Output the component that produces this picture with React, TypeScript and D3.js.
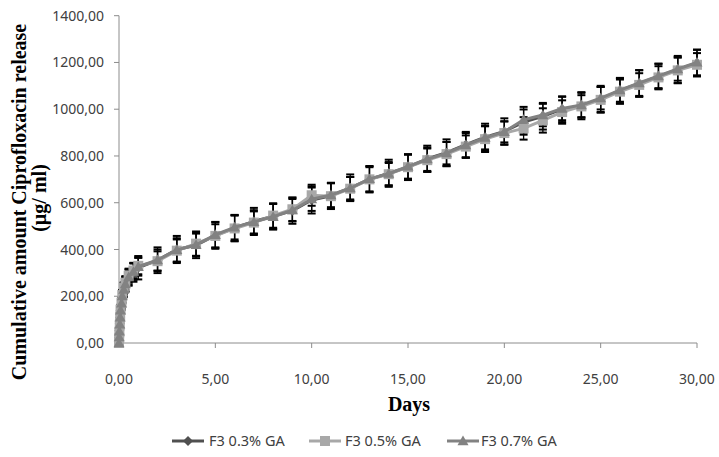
import React from "react";
import * as d3 from "d3";

// Sampling times (days)
const days = [
  0, 0.01, 0.02, 0.04, 0.06, 0.08, 0.13, 0.17, 0.25, 0.33, 0.5, 0.75, 1,
  2, 3, 4, 5, 6, 7, 8, 9, 10, 11, 12, 13, 14, 15, 16, 17, 18, 19, 20,
  21, 22, 23, 24, 25, 26, 27, 28, 29, 30,
];

// Cumulative release (µg/ml), means
const f3_03 = [
  0, 24, 52, 82, 108, 138, 168, 198, 226, 250, 280, 302, 322,
  354, 400, 418, 460, 492, 520, 542, 566, 612, 630, 664, 700, 726, 752, 788,
  814, 848, 880, 905, 945, 970, 1000, 1015, 1044, 1080, 1110, 1140, 1170, 1198,
];
const f3_05 = [
  0, 22, 48, 78, 112, 142, 172, 205, 235, 258, 288, 310, 330,
  350, 395, 425, 458, 490, 515, 545, 572, 632, 628, 660, 700, 722, 752, 782,
  808, 840, 872, 898, 918, 952, 988, 1012, 1040, 1075, 1104, 1136, 1166, 1190,
];
const f3_07 = [
  0, 25, 50, 80, 110, 140, 170, 200, 228, 252, 282, 305, 326,
  355, 398, 420, 463, 495, 518, 540, 568, 615, 633, 662, 702, 724, 755, 786,
  812, 846, 878, 903, 955, 975, 1003, 1018, 1047, 1082, 1112, 1142, 1172, 1200,
];

// Standard deviations
const sd_03 = [
  0, 10, 14, 18, 20, 24, 26, 28, 30, 32, 35, 40, 50,
  55, 58, 55, 57, 56, 58, 54, 56, 58, 55, 57, 56, 58, 54, 56, 57, 55, 58,
  56, 54, 57, 55, 58, 56, 54, 57, 55, 58, 56,
];
const sd_05 = [
  0, 6, 10, 14, 16, 18, 20, 22, 25, 28, 30, 33, 36,
  42, 48, 52, 50, 55, 48, 52, 50, 45, 55, 50, 52, 48, 55, 50, 52, 48, 55,
  50, 48, 52, 50, 48, 55, 52, 50, 48, 55, 50,
];
const sd_07 = [
  0, 8, 12, 15, 18, 20, 22, 25, 28, 30, 32, 35, 38,
  45, 50, 48, 55, 52, 50, 55, 48, 50, 52, 48, 55, 50, 52, 50, 48, 52, 50,
  45, 55, 48, 50, 52, 48, 50, 55, 52, 50, 55,
];

const seriesNames = ["F3 0.3% GA", "F3 0.5% GA", "F3 0.7% GA"];
const xTicks = [0, 5, 10, 15, 20, 25, 30];
const yTicks = [0, 200, 400, 600, 800, 1000, 1200, 1400];

const W = 719;
const H = 457;

const fmt = (v: number) => v.toFixed(2).replace(".", ",");

type Shape = "diamond" | "square" | "triangle";

function Marker({ shape, x, y, fill }: { shape: Shape; x: number; y: number; fill: string }) {
  if (shape === "diamond") {
    const r = 5;
    return <path d={`M${x},${y - r}L${x + r},${y}L${x},${y + r}L${x - r},${y}Z`} fill={fill} />;
  }
  if (shape === "square") {
    const r = 5;
    return <rect x={x - r} y={y - r} width={2 * r} height={2 * r} fill={fill} />;
  }
  const r = 5.5;
  return <path d={`M${x},${y - r}L${x + r},${y + r * 0.75}L${x - r},${y + r * 0.75}Z`} fill={fill} />;
}

export default function App() {
  const x = d3.scaleLinear().domain([0, 30]).range([119, 697]);
  const y = d3.scaleLinear().domain([0, 1400]).range([343, 15.7]);

  const series = [
    { name: seriesNames[0], values: f3_03, sd: sd_03, color: "#505050", shape: "diamond" as Shape },
    { name: seriesNames[1], values: f3_05, sd: sd_05, color: "#a8a8a8", shape: "square" as Shape },
    { name: seriesNames[2], values: f3_07, sd: sd_07, color: "#828282", shape: "triangle" as Shape },
  ];

  const line = d3
    .line<number>()
    .x((_, i) => x(days[i]))
    .y((v) => y(v));

  const tickFont = "'Noto Sans', 'Open Sans', sans-serif";
  const titleFont = "'Liberation Serif', 'DejaVu Serif', serif";
  const capW = 4;

  const legendItems = [
    { lx: 172, tx: 209 },
    { lx: 309, tx: 345 },
    { lx: 447, tx: 481 },
  ];

  return (
    <svg
      width={W}
      height={H}
      style={{ position: "absolute", left: 0, top: 0, background: "#fff" }}
    >
      {/* axes */}
      <line x1={x(0)} x2={x(0)} y1={y(0)} y2={y(1400)} stroke="#8c8c8c" strokeWidth={1} />
      <line x1={x(0)} x2={x(30)} y1={y(0)} y2={y(0)} stroke="#8c8c8c" strokeWidth={1} />
      {yTicks.map((t) => (
        <g key={"y" + t}>
          <line x1={x(0) - 5} x2={x(0)} y1={y(t)} y2={y(t)} stroke="#8c8c8c" />
          <text
            x={104}
            y={y(t)}
            dy="0.36em"
            textAnchor="end"
            fontFamily={tickFont}
            fontSize={14}
            fill="#404040"
          >
            {fmt(t)}
          </text>
        </g>
      ))}
      {xTicks.map((t) => (
        <g key={"x" + t}>
          <line x1={x(t)} x2={x(t)} y1={y(0)} y2={y(0) + 5} stroke="#8c8c8c" />
          <text
            x={x(t)}
            y={384}
            textAnchor="middle"
            fontFamily={tickFont}
            fontSize={14}
            fill="#404040"
          >
            {fmt(t)}
          </text>
        </g>
      ))}

      {/* error bars */}
      {series.map((s) => (
        <g key={"err" + s.name} stroke="#000">
          {s.values.map((v, i) => {
            if (s.sd[i] === 0) return null;
            const cx = x(days[i]);
            const top = y(v + s.sd[i]);
            const bot = y(v - s.sd[i]);
            return (
              <g key={i}>
                <line x1={cx} x2={cx} y1={top} y2={bot} strokeWidth={1.3} />
                <line x1={cx - capW} x2={cx + capW} y1={top} y2={top} strokeWidth={2} />
                <line x1={cx - capW} x2={cx + capW} y1={bot} y2={bot} strokeWidth={2} />
              </g>
            );
          })}
        </g>
      ))}

      {/* series lines and markers */}
      {series.map((s) => (
        <g key={"s" + s.name}>
          <path d={line(s.values) || ""} fill="none" stroke={s.color} strokeWidth={3} strokeLinejoin="round" />
          {s.values.map((v, i) => (
            <Marker key={i} shape={s.shape} x={x(days[i])} y={y(v)} fill={s.color} />
          ))}
        </g>
      ))}

      {/* axis titles */}
      <text
        transform="translate(25.5,202) rotate(-90)"
        textAnchor="middle"
        fontFamily={titleFont}
        fontWeight="bold"
        fontSize={20}
        fill="#000"
      >
        Cumulative amount Ciprofloxacin release
      </text>
      <text
        transform="translate(45.5,198) rotate(-90)"
        textAnchor="middle"
        fontFamily={titleFont}
        fontWeight="bold"
        fontSize={20}
        fill="#000"
      >
        (µg/ ml)
      </text>
      <text
        x={409}
        y={410.5}
        textAnchor="middle"
        fontFamily={titleFont}
        fontWeight="bold"
        fontSize={20}
        fill="#000"
      >
        Days
      </text>

      {/* legend */}
      {series.map((s, i) => {
        const it = legendItems[i];
        const ly = 441;
        return (
          <g key={"lg" + s.name}>
            <line x1={it.lx} x2={it.lx + 32} y1={ly} y2={ly} stroke={s.color} strokeWidth={3} />
            <Marker shape={s.shape} x={it.lx + 16} y={ly} fill={s.color} />
            <text
              x={it.tx}
              y={ly}
              dy="0.36em"
              fontFamily={tickFont}
              fontSize={14.5}
              fill="#404040"
            >
              {s.name}
            </text>
          </g>
        );
      })}
    </svg>
  );
}
